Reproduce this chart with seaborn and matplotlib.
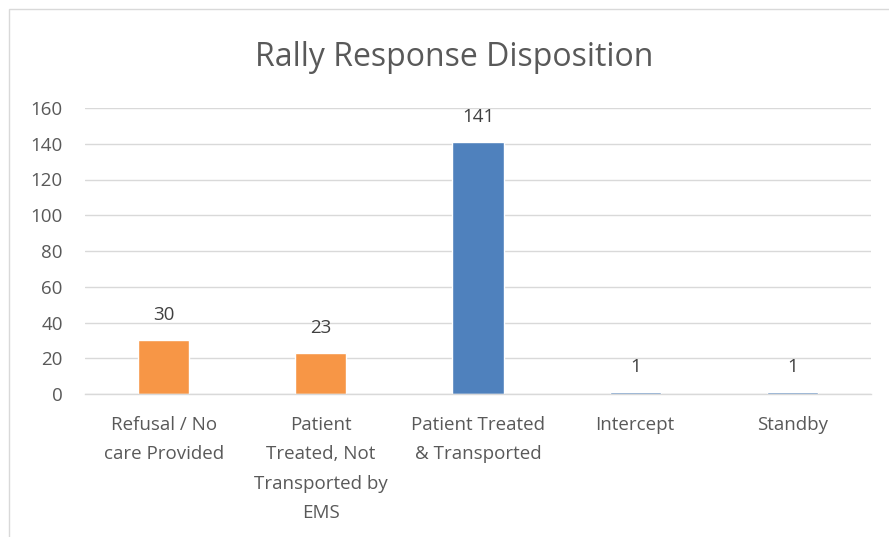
import matplotlib
matplotlib.use("Agg")
import matplotlib.pyplot as plt
import seaborn as sns
import pandas as pd
from matplotlib.patches import Rectangle

categories = ["Refusal / No\ncare Provided", "Patient\nTreated, Not\nTransported by\nEMS",
              "Patient Treated\n& Transported", "Intercept", "Standby"]
values = [30, 23, 141, 1, 1]
colors = ["#F79646", "#F79646", "#4F81BD", "#4F81BD", "#4F81BD"]
yticks = [0, 20, 40, 60, 80, 100, 120, 140, 160]
title = "Rally Response Disposition"

sns.set_theme(style="white")
plt.rcParams['font.family'] = ['Open Sans', 'DejaVu Sans']
txt = "#595959"
fs = 13.5

df = pd.DataFrame({"cat": categories, "val": values})
fig = plt.figure(figsize=(8.89, 5.37), dpi=100)
ax = fig.add_axes([85/889, 1-394/537, (871-85)/889, (394-108)/537])
sns.barplot(data=df, x="cat", y="val", hue="cat", palette=colors, legend=False,
            width=0.325, ax=ax, saturation=1)
ax.set_ylim(0, 160)
ax.set_xlim(-0.5, 4.5)
ax.set_yticks(yticks)
ax.set_yticklabels([str(t) for t in yticks], fontsize=fs, color=txt)
ax.tick_params(axis='x', labelsize=fs, labelcolor=txt, length=0, pad=16)
ax.tick_params(axis='y', length=0, pad=16)
ax.yaxis.grid(True, color="#D9D9D9", linewidth=1)
ax.set_axisbelow(True)
for s in ["top", "right", "left"]:
    ax.spines[s].set_visible(False)
ax.spines["bottom"].set_color("#D9D9D9")
ax.spines["bottom"].set_linewidth(1)
ax.set_xlabel("")
ax.set_ylabel("")
for lbl in ax.get_xticklabels():
    lbl.set_linespacing(1.8)
for i, v in enumerate(values):
    ax.annotate(str(v), (i, v), xytext=(0, 18), textcoords="offset points",
                ha="center", va="center", fontsize=fs, color="#404040")
fig.text(454/889, 1-57/537, title, ha="center", va="center", fontsize=23, color=txt)
fig.patches.append(Rectangle((9/889, -0.1), 1.1, 1 - 9/537 + 0.1, transform=fig.transFigure,
                             fill=False, edgecolor="#D9D9D9", linewidth=1))
fig.savefig("out.png", dpi=100, facecolor="white")
